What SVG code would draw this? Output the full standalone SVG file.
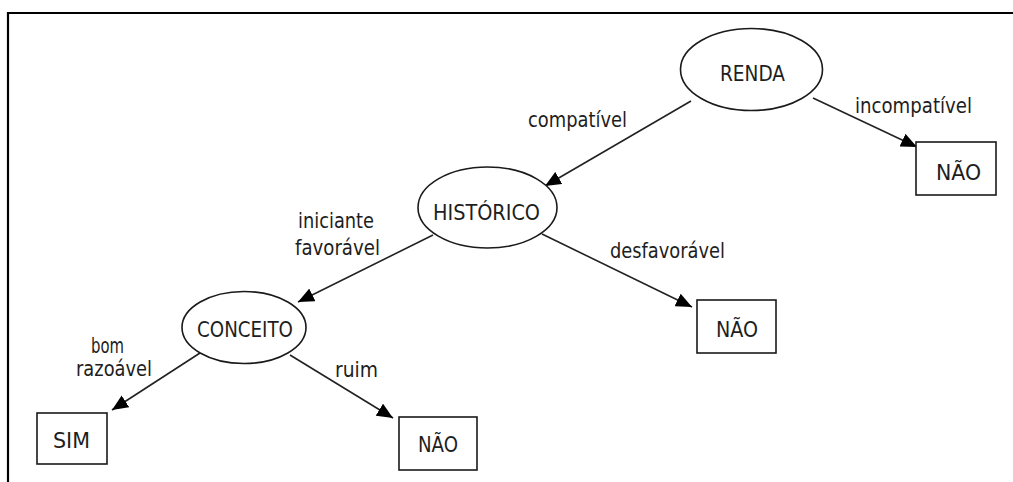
<svg xmlns="http://www.w3.org/2000/svg" width="1013" height="482" viewBox="0 0 1013 482">
<style>
.bg{fill:#fff}
.frame{fill:none;stroke:#000;stroke-width:2.2}
.node{fill:#fff;stroke:#1a1a1a;stroke-width:1.6}
.edge{fill:none;stroke:#222;stroke-width:1.6;marker-end:url(#arr)}
text{font-family:"DejaVu Sans Condensed","DejaVu Sans",sans-serif;font-stretch:condensed;font-size:22px;fill:#1e1e1e}
</style>
<defs>
<marker id="arr" markerUnits="userSpaceOnUse" markerWidth="17" markerHeight="14" refX="16" refY="7" orient="auto">
<path d="M0,0 L16,7 L0,14 z" fill="#000"/>
</marker>
</defs>
<rect class="bg" x="0" y="0" width="1013" height="482"/>
<path class="frame" d="M8,482 V13 H1013"/>
<g id="connectors">
<line class="edge" x1="691" y1="101" x2="545" y2="186"/>
<text x="528" y="127" textLength="99" lengthAdjust="spacingAndGlyphs">compatível</text>
<line class="edge" x1="813" y1="98" x2="917" y2="147"/>
<text x="855" y="113" textLength="117" lengthAdjust="spacingAndGlyphs">incompatível</text>
<line class="edge" x1="433" y1="235" x2="298" y2="302"/>
<text x="298" y="228" textLength="76" lengthAdjust="spacingAndGlyphs">iniciante</text>
<text x="295" y="255" textLength="85" lengthAdjust="spacingAndGlyphs">favorável</text>
<line class="edge" x1="542" y1="234" x2="692" y2="307"/>
<text x="610" y="258" textLength="115" lengthAdjust="spacingAndGlyphs">desfavorável</text>
<line class="edge" x1="200" y1="353" x2="112" y2="410"/>
<text x="91" y="353" textLength="33" lengthAdjust="spacingAndGlyphs">bom</text>
<text x="76" y="376" textLength="76" lengthAdjust="spacingAndGlyphs">razoável</text>
<line class="edge" x1="290" y1="355" x2="393" y2="418"/>
<text x="335" y="377" textLength="43" lengthAdjust="spacingAndGlyphs">ruim</text>
</g>
<g id="renda">
<ellipse class="node" cx="751.5" cy="69.5" rx="71" ry="41"/>
<text x="720" y="81" textLength="65" lengthAdjust="spacingAndGlyphs">RENDA</text>
</g>
<g id="nao1">
<rect class="node" x="916" y="142" width="80" height="53"/>
<text x="936" y="180" textLength="45" lengthAdjust="spacingAndGlyphs">NÃO</text>
</g>
<g id="historico">
<ellipse class="node" cx="487.5" cy="207.5" rx="69.5" ry="40.5"/>
<text x="433" y="220" textLength="107" lengthAdjust="spacingAndGlyphs">HISTÓRICO</text>
</g>
<g id="nao2">
<rect class="node" x="697" y="300" width="79" height="53"/>
<text x="716" y="337" textLength="42" lengthAdjust="spacingAndGlyphs">NÃO</text>
</g>
<g id="conceito">
<ellipse class="node" cx="244" cy="327.5" rx="62" ry="36"/>
<text x="197" y="337" textLength="96" lengthAdjust="spacingAndGlyphs">CONCEITO</text>
</g>
<g id="sim">
<rect class="node" x="37" y="413" width="70" height="51"/>
<text x="53" y="448" textLength="37" lengthAdjust="spacingAndGlyphs">SIM</text>
</g>
<g id="nao3">
<rect class="node" x="399" y="417" width="78" height="53"/>
<text x="418" y="452" textLength="40" lengthAdjust="spacingAndGlyphs">NÃO</text>
</g>
</svg>
